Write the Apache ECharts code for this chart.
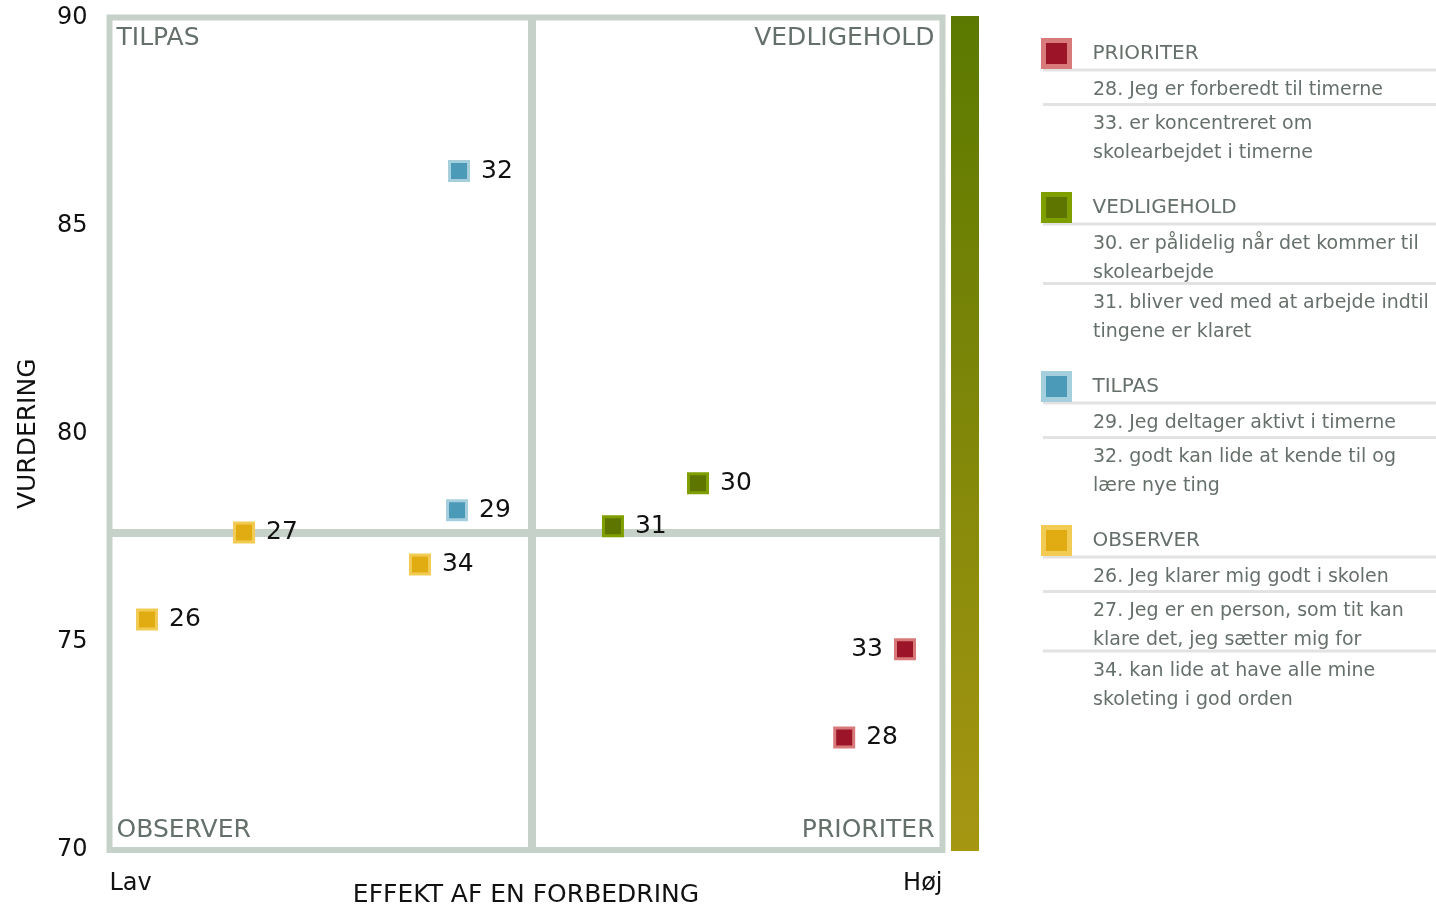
<!DOCTYPE html>
<html>
<head>
<meta charset="utf-8">
<script src="https://cdn.jsdelivr.net/npm/echarts@6/dist/echarts.min.js"></script>
<style>
  html, body { margin: 0; padding: 0; background: #fff; }
  #chart { width: 1436px; height: 909px; }
</style>
</head>
<body>
<div id="chart"></div>
<script>
// data: [effekt (0-100), vurdering, item nr]
const prioriterPoints = [[88.2, 72.70, "28"], [95.5, 74.82, "33"]];
const vedligeholdPoints = [[70.65, 78.81, "30"], [60.44, 77.78, "31"]];
const tilpasPoints = [[41.72, 78.16, "29"], [41.96, 86.31, "32"]];
const observerPoints = [[4.5, 75.54, "26"], [16.15, 77.63, "27"], [37.27, 76.86, "34"]];

const quadrantNames = ["PRIORITER", "VEDLIGEHOLD", "TILPAS", "OBSERVER"];
const dividerX = 50.72;
const dividerY = 77.63;
const yTicks = [70, 75, 80, 85, 90];
const xEndLabels = ["Lav", "Høj"];

const prioriterItems = ["28. Jeg er forberedt til timerne", "33. er koncentreret om\nskolearbejdet i timerne"];
const vedligeholdItems = ["30. er pålidelig når det kommer til\nskolearbejde", "31. bliver ved med at arbejde indtil\ntingene er klaret"];
const tilpasItems = ["29. Jeg deltager aktivt i timerne", "32. godt kan lide at kende til og\nlære nye ting"];
const observerItems = ["26. Jeg klarer mig godt i skolen", "27. Jeg er en person, som tit kan\nklare det, jeg sætter mig for", "34. kan lide at have alle mine\nskoleting i god orden"];

const leftLabelIds = ["33"];

// styles
const FONT = "DejaVu Sans";
const GRAY = "#66706a";
const FRAME = "#c6d1c9";
const fills = ["#9b1428", "#5e7500", "#4a9ab8", "#e0ac12"];
const borders = ["#d97a7a", "#7f9f00", "#a6cfdd", "#f2cb55"];

const W = 1436, H = 909;
const box = { left: 109.5, top: 17.5, right: 942.5, bottom: 850 };

const chart = echarts.init(document.getElementById("chart"));

const pointSets = [prioriterPoints, vedligeholdPoints, tilpasPoints, observerPoints];
const itemSets = [prioriterItems, vedligeholdItems, tilpasItems, observerItems];

const scatterSeries = quadrantNames.map((name, i) => ({
	name: name,
	type: "scatter",
	z: 3,
	symbol: "rect",
	symbolSize: 19,
	itemStyle: { color: fills[i], borderColor: borders[i], borderWidth: 3, opacity: 1 },
	label: {
		show: true,
		position: "right",
		distance: 11,
		color: "#111",
		fontFamily: FONT,
		fontSize: 25,
		formatter: p => p.value[2]
	},
	emphasis: { disabled: true },
	data: pointSets[i].map(p => ({
		value: p,
		label: leftLabelIds.includes(p[2]) ? { position: "left" } : undefined
	}))
}));

// divider lines (quadrant cross)
const dividerSeries = {
	type: "line",
	data: [],
	z: 1,
	silent: true,
	markLine: {
		z: 1,
		silent: true,
		symbol: "none",
		label: { show: false },
		lineStyle: { color: FRAME, width: 8, type: "solid" },
		data: [{ xAxis: dividerX }, { yAxis: dividerY }]
	}
};

// legends, one per quadrant
const headerYs = [];
const graphics = [];
let y = 51;
itemSets.forEach((items, i) => {
	headerYs.push(y);
	let lineY = y + 19;
	let lastCenter = y;
	items.forEach((txt, k) => {
		graphics.push({
			type: "line",
			shape: { x1: 1043, y1: lineY, x2: W, y2: lineY },
			style: { stroke: "#e2e2e2", lineWidth: 3 },
			silent: true
		});
		const nLines = txt.split("\n").length;
		const first = lineY + 17.5;
		graphics.push({
			type: "text",
			x: 1093,
			y: first - 12,
			style: { text: txt, fill: GRAY, font: "19px '" + FONT + "'", lineHeight: 29, verticalAlign: "top" },
			silent: true
		});
		lastCenter = first + (nLines - 1) * 29;
		lineY = lastCenter + (nLines === 1 ? 17 : 13);
	});
	y = lastCenter + 54;
});

const legends = quadrantNames.map((name, i) => ({
	data: [name],
	left: 1041,
	top: headerYs[i] - 13,
	padding: 0,
	itemWidth: 26,
	itemHeight: 26,
	icon: "rect",
	selectedMode: false,
	itemStyle: { color: fills[i], borderColor: borders[i], borderWidth: 5 },
	textStyle: { color: GRAY, fontFamily: FONT, fontSize: 20, padding: [0, 0, 0, 18] }
}));

// quadrant corner labels
const cornerFont = "25px '" + FONT + "'";
graphics.push(
	{ type: "text", x: box.left + 7, y: box.top + 21, style: { text: "TILPAS", fill: GRAY, font: cornerFont, verticalAlign: "middle" }, silent: true },
	{ type: "text", x: box.right - 8, y: box.top + 21, style: { text: "VEDLIGEHOLD", fill: GRAY, font: cornerFont, align: "right", verticalAlign: "middle" }, silent: true },
	{ type: "text", x: box.left + 7, y: box.bottom - 20, style: { text: "OBSERVER", fill: GRAY, font: cornerFont, verticalAlign: "middle" }, silent: true },
	{ type: "text", x: box.right - 8, y: box.bottom - 20, style: { text: "PRIORITER", fill: GRAY, font: cornerFont, align: "right", verticalAlign: "middle" }, silent: true }
);

// gradient bar
graphics.push({
	type: "rect",
	shape: { x: 951, y: 16, width: 28, height: 835 },
	style: {
		fill: new echarts.graphic.LinearGradient(0, 0, 0, 1, [
			{ offset: 0, color: "#5b7900" },
			{ offset: 1, color: "#a69612" }
		])
	},
	silent: true
});

const option = {
	animation: false,
	grid: {
		left: box.left,
		top: box.top,
		right: W - box.right,
		bottom: H - box.bottom,
		outerBoundsMode: "none",
		containLabel: false,
		show: true,
		borderColor: FRAME,
		borderWidth: 6,
		backgroundColor: "transparent"
	},
	xAxis: {
		type: "value",
		min: 0,
		max: 100,
		interval: 100,
		name: "EFFEKT AF EN FORBEDRING",
		nameLocation: "middle",
		nameGap: 33,
		nameMoveOverlap: false,
		nameTextStyle: { color: "#111", fontFamily: FONT, fontSize: 25 },
		axisLine: { show: false },
		axisTick: { show: false },
		splitLine: { show: false },
		axisLabel: {
			color: "#111",
			fontFamily: FONT,
			fontSize: 24,
			margin: 22,
			alignMinLabel: "left",
			alignMaxLabel: "right",
			formatter: v => (v === 0 ? xEndLabels[0] : xEndLabels[1])
		}
	},
	yAxis: {
		type: "value",
		min: yTicks[0],
		max: yTicks[yTicks.length - 1],
		interval: yTicks[1] - yTicks[0],
		name: "VURDERING",
		nameLocation: "middle",
		nameGap: 69,
		nameRotate: 90,
		nameMoveOverlap: false,
		nameTextStyle: { color: "#111", fontFamily: FONT, fontSize: 25 },
		axisLine: { show: false },
		axisTick: { show: false },
		splitLine: { show: false },
		axisLabel: { color: "#111", fontFamily: FONT, fontSize: 24, margin: 22 }
	},
	legend: legends,
	graphic: graphics,
	series: [dividerSeries].concat(scatterSeries)
};

chart.setOption(option);
window.onresize = chart.resize;
</script>
</body>
</html>
